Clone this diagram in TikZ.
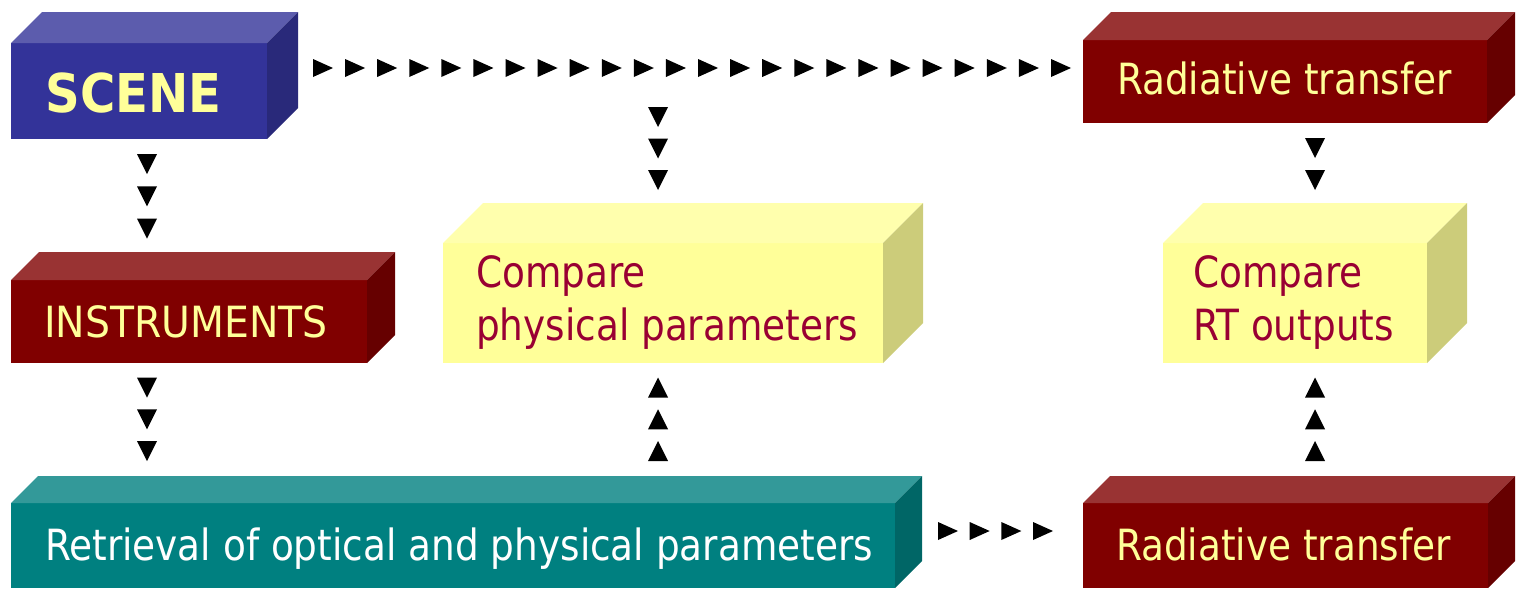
\documentclass[tikz,border=0pt]{standalone}
\usepackage{fontspec}
\setmainfont{DejaVu Sans}[FakeStretch=0.87]
\newfontfamily\capsfont{DejaVu Sans}[FakeStretch=0.915]
\newfontfamily\scenefont{DejaVu Sans Bold}[FakeStretch=0.9]
\usetikzlibrary{calc}
\definecolor{blueF}{HTML}{333399}\definecolor{blueT}{HTML}{5C5CAD}\definecolor{blueS}{HTML}{29297A}
\definecolor{redF}{HTML}{800000}\definecolor{redT}{HTML}{993333}\definecolor{redS}{HTML}{660000}
\definecolor{yelF}{HTML}{FFFF99}\definecolor{yelT}{HTML}{FFFFAD}\definecolor{yelS}{HTML}{CCCC7A}
\definecolor{tealF}{HTML}{008080}\definecolor{tealT}{HTML}{339999}\definecolor{tealS}{HTML}{006666}
\definecolor{txtY}{HTML}{FFFF99}\definecolor{txtR}{HTML}{990033}
\newcommand{\threedbox}[7]{%
  \node[face,fill=#7F,minimum width={(#4-#2)*1pt},minimum height={(#5-#3)*1pt}] (#1) at (#2,#3) {};
  \fill[#7T] (#1.north west) -- ++(#6,-#6) -- ($(#1.north east)+(#6,-#6)$) -- (#1.north east) -- cycle;
  \fill[#7S] (#1.north east) -- ++(#6,-#6) -- ($(#1.south east)+(#6,-#6)$) -- (#1.south east) -- cycle;
}
\tikzset{
  face/.style={inner sep=0pt,outer sep=0pt,draw=none,anchor=north west},
  lbl/.style={anchor=base west,inner sep=0pt,outer sep=0pt,font=\fontsize{43}{53}\selectfont},
  trir/.pic={\fill (-10,-9) -- (10,0) -- (-10,9) -- cycle;},
  trid/.pic={\fill (-10,-10) -- (0,10) -- (10,-10) -- cycle;},
  triu/.pic={\fill (-10,10) -- (0,-10) -- (10,10) -- cycle;},
}
\begin{document}
\begin{tikzpicture}[x=1pt,y=-1pt]
\useasboundingbox (0,0) rectangle (1518,592);
% boxes
\threedbox{scene}{11}{43}{267}{139}{31}{blue}
\threedbox{rt1}{1083}{40}{1487}{123}{28}{red}
\threedbox{instr}{11}{280}{367}{363}{28}{red}
\threedbox{cmpA}{443}{243}{883}{363}{40}{yel}
\threedbox{cmpB}{1163}{243}{1427}{363}{40}{yel}
\threedbox{retr}{11}{503}{895}{588}{27}{teal}
\threedbox{rt2}{1083}{503}{1488}{588}{27}{red}
% texts
\node[lbl,font=\scenefont\fontsize{53.5}{60}\selectfont,text=txtY] (sceneT) at (45.5,112) {SCENE};
\node[lbl,text=txtY] (rt1T) at (1117,94) {Radiative transfer};
\node[lbl,font=\capsfont\fontsize{43}{53}\selectfont,text=txtY] (instrT) at (44,337) {INSTRUMENTS};
\node[lbl,text=txtR] (cmpAa) at (476,287) {Compare};
\node[lbl,text=txtR] (cmpAb) at (476,340) {physical parameters};
\node[lbl,text=txtR] (cmpBa) at (1193,287) {Compare};
\node[lbl,text=txtR] (cmpBb) at (1193,340) {RT outputs};
\node[lbl,text=white] (retrT) at (45,560) {Retrieval of optical and physical parameters};
\node[lbl,text=txtY] (rt2T) at (1116,560) {Radiative transfer};
% connector end points
\coordinate (c1s) at ($(scene.north east)+(56,25)$);   % (323,68)
\coordinate (c1e) at ($(rt1.north west)+(-22,28)$);     % (1061,68)
\coordinate (c2s) at ($(scene.south west)+(136,25)$);   % (147,164)
\coordinate (c2e) at ($(instr.north west)+(136,-51.5)$);% (147,228.5)
\coordinate (c3s) at ($(instr.south west)+(136,24.5)$); % (147,387.5)
\coordinate (c3e) at ($(retr.north west)+(136,-52)$);   % (147,451)
\coordinate (c4s) at (658,117);
\coordinate (c4e) at ($(cmpA.north west)+(215,-63)$);   % (658,180)
\coordinate (c5s) at ($(retr.north west)+(647,-52)$);   % (658,451)
\coordinate (c5e) at ($(cmpA.south west)+(215,24.5)$);  % (658,387.5)
\coordinate (c6s) at ($(rt1.south west)+(232,25)$);     % (1315,148)
\coordinate (c6e) at ($(cmpB.north west)+(152,-63)$);   % (1315,180)
\coordinate (c7s) at ($(rt2.north west)+(232,-52)$);    % (1315,451)
\coordinate (c7e) at ($(cmpB.south west)+(152,24.5)$);  % (1315,387.5)
\coordinate (c8s) at ($(retr.north east)+(53,28)$);     % (948,531)
\coordinate (c8e) at ($(rt2.north west)+(-40,28)$);     % (1043,531)
% connectors
\foreach \i in {0,...,23} \pic at ($(c1s)!\i/23!(c1e)$) {trir};
\foreach \i in {0,1,2} \pic at ($(c2s)!\i/2!(c2e)$) {trid};
\foreach \i in {0,1,2} \pic at ($(c3s)!\i/2!(c3e)$) {trid};
\foreach \i in {0,1,2} \pic at ($(c4s)!\i/2!(c4e)$) {trid};
\foreach \i in {0,1,2} \pic at ($(c5s)!\i/2!(c5e)$) {triu};
\foreach \i in {0,1} \pic at ($(c6s)!\i!(c6e)$) {trid};
\foreach \i in {0,1,2} \pic at ($(c7s)!\i/2!(c7e)$) {triu};
\foreach \i in {0,...,3} \pic at ($(c8s)!\i/3!(c8e)$) {trir};
\end{tikzpicture}
\end{document}
